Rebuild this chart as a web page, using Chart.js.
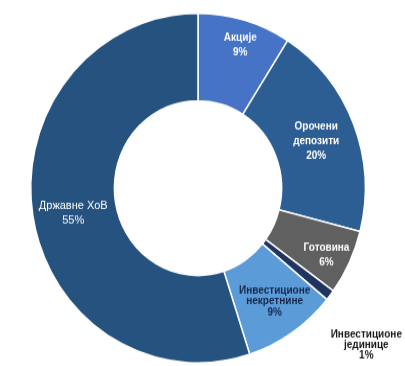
<!DOCTYPE html>
<html>
<head>
<meta charset="utf-8">
<script src="https://cdn.jsdelivr.net/npm/chart.js@4"></script>
<style>
  html, body { margin: 0; padding: 0; background: #fff; overflow: hidden; }
  /* the original picture is a bit taller than wide, so stretch it a little */
  #wrap { width: 405px; height: 366px; transform: scaleY(1.045); transform-origin: 0 0; }
</style>
</head>
<body>
<div id="wrap"><canvas id="pie" width="405" height="366"></canvas></div>
<script>
// Структура портфолија (у %)
const categories = ['Акције', 'Орочени депозити', 'Готовина', 'Инвестиционе јединице', 'Инвестиционе некретнине', 'Државне ХоВ'];
const labelLines = [['Акције'], ['Орочени', 'депозити'], ['Готовина'], ['Инвестиционе', 'јединице'], ['Инвестиционе', 'некретнине'], ['Државне ХоВ']];
const shares = [9, 20, 6, 1, 9, 55];

const sliceColors = ['#4673c6', '#2c5e94', '#606060', '#1f3461', '#5b9bd8', '#25527f'];
const textColors = ['#ffffff', '#ffffff', '#ffffff', '#1a1a1a', '#14284a', '#ffffff'];
const textFonts = ['bold 10px "Liberation Sans"', 'bold 10px "Liberation Sans"', 'bold 10px "Liberation Sans"',
                   'bold 10px "Liberation Sans"', 'bold 10px "Liberation Sans"', '11px "Liberation Sans"'];
const lineHeights = [14, 14, 14, 10, 10.5, 14];
const labelRadius = [0.71, 0.51, 0.72, 1.70, 0.59, 0.52]; // 0 = inner edge, 1 = outer edge
const labelTurn = [1, 1, 1.5, 4, -1, -2]; // degrees

// Ставља натписе на исечке
const sliceLabels = {
  id: 'sliceLabels',
  afterDatasetsDraw(chart) {
    const ctx = chart.ctx;
    chart.getDatasetMeta(0).data.forEach((arc, i) => {
      const p = arc.getProps(['x', 'y', 'startAngle', 'endAngle', 'innerRadius', 'outerRadius'], true);
      const mid = (p.startAngle + p.endAngle) / 2 + labelTurn[i] * Math.PI / 180;
      const r = p.innerRadius + labelRadius[i] * (p.outerRadius - p.innerRadius);
      const x = p.x + r * Math.cos(mid);
      const y = p.y + r * Math.sin(mid);
      const lines = labelLines[i].concat(shares[i] + '%');
      const y0 = y - (lines.length - 1) * lineHeights[i] / 2;
      ctx.save();
      ctx.font = textFonts[i];
      ctx.fillStyle = textColors[i];
      ctx.textAlign = 'center';
      ctx.textBaseline = 'middle';
      lines.forEach((t, k) => ctx.fillText(t, x, y0 + k * lineHeights[i]));
      ctx.restore();
    });
  }
};

new Chart(document.getElementById('pie').getContext('2d'), {
  type: 'doughnut',
  data: {
    labels: categories,
    datasets: [{
      data: shares,
      backgroundColor: sliceColors,
      borderColor: '#ffffff',
      borderWidth: 1.5
    }]
  },
  options: {
    responsive: false,
    animation: false,
    cutout: '50%',
    layout: { padding: { left: 30, right: 39, top: 12, bottom: 18 } },
    plugins: {
      legend: { display: false },
      tooltip: { enabled: false }
    }
  },
  plugins: [sliceLabels]
});
</script>
</body>
</html>
